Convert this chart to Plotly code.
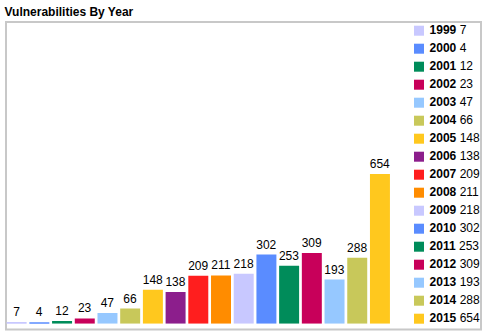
import plotly.graph_objects as go

years = ["1999", "2000", "2001", "2002", "2003", "2004", "2005", "2006", "2007",
         "2008", "2009", "2010", "2011", "2012", "2013", "2014", "2015"]
counts = [7, 4, 12, 23, 47, 66, 148, 138, 209, 211, 218, 302, 253, 309, 193, 288, 654]
palette = ["#c8c8ff", "#5a8cff", "#008c5a", "#c8005a", "#96c8ff",
           "#c8c85a", "#ffc81e", "#8c1e8c", "#ff1e1e", "#ff8c00"]
colors = [palette[i % len(palette)] for i in range(len(years))]
title = "Vulnerabilities By Year"

W, H = 487, 335
def px(x):
    return x / W
def py(y):
    return 1 - y / H

fig = go.Figure()
fig.add_trace(go.Bar(
    x=years, y=counts, marker=dict(color=colors, line=dict(width=0)),
    text=[str(c) for c in counts], textposition="outside", cliponaxis=False,
    constraintext="none",
    textfont=dict(family="Arial, Liberation Sans", size=12, color="#000000"),
    xaxis="x", yaxis="y", showlegend=False, hoverinfo="x+y",
))
# legend drawn as a marker column on its own axes
fig.add_trace(go.Scatter(
    x=[0] * len(years), y=years, mode="markers+text",
    marker=dict(symbol="square", size=10, color=colors, line=dict(width=0)),
    text=[f"\u00a0<b>{y}</b> {c}" for y, c in zip(years, counts)],
    textposition="middle right",
    textfont=dict(family="Arial, Liberation Sans", size=12, color="#000000"),
    xaxis="x2", yaxis="y2", showlegend=False, cliponaxis=False, hoverinfo="skip",
))

ymax = 2 * max(counts)
axis_off = dict(showgrid=False, zeroline=False, showticklabels=False, showline=False, ticks="")
fig.update_layout(
    width=W, height=H, margin=dict(l=0, r=0, t=0, b=0),
    paper_bgcolor="white", plot_bgcolor="white",
    bargap=0.12,
    xaxis=dict(domain=[px(5.3), px(391.3)], range=[-0.5, len(years) - 0.5], **axis_off),
    yaxis=dict(domain=[py(323.7), py(24.3)], range=[0, ymax], **axis_off),
    xaxis2=dict(domain=[px(409), px(429)], range=[-1, 1], anchor="y2", **axis_off),
    yaxis2=dict(domain=[py(327.7), py(21.7)], range=[len(years) - 0.5, -0.5],
                type="category", anchor="x2", **axis_off),
    title=dict(text=f"<b>{title}</b>", x=px(4.5), xanchor="left", xref="paper",
               y=py(11.5), yanchor="middle", yref="paper",
               font=dict(family="Arial, Liberation Sans", size=12, color="#000000")),
    shapes=[dict(type="rect", xref="paper", yref="paper",
                 x0=px(6), x1=px(481), y0=py(329.5), y1=py(22),
                 line=dict(color="#c8c8c8", width=2), fillcolor="rgba(0,0,0,0)", layer="below")],
)
fig.write_html("out.html")
